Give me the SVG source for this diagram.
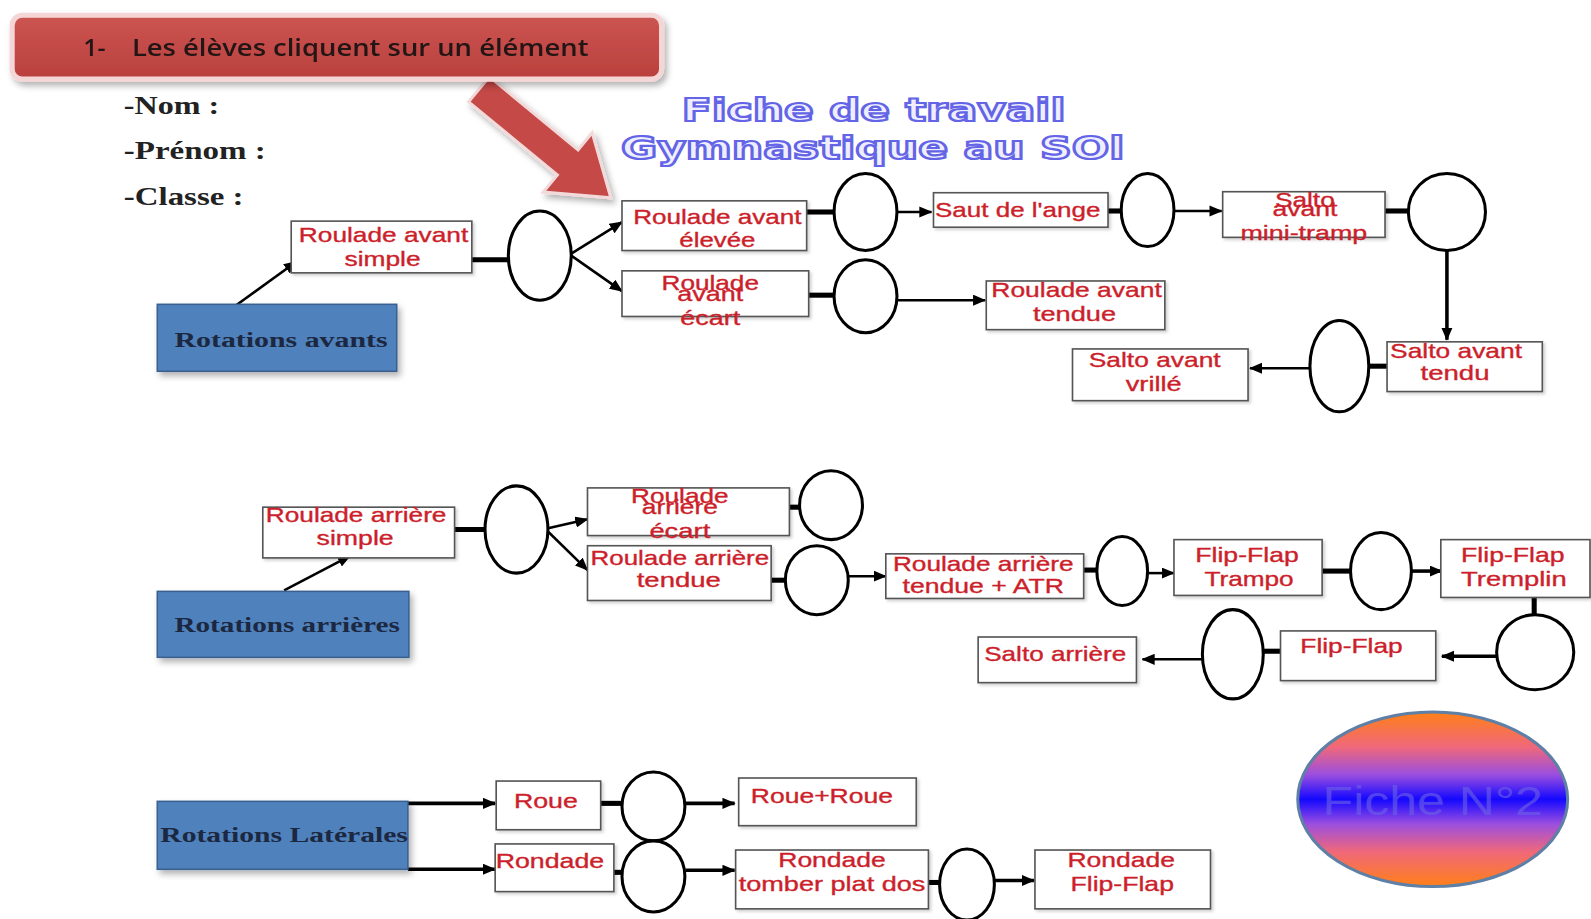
<svg xmlns="http://www.w3.org/2000/svg" width="1591" height="919" viewBox="0 0 1591 919">
<style>
.t{font-family:"Liberation Sans",Arial,sans-serif;font-size:20px;fill:#cc1f2b;stroke:#cc1f2b;stroke-width:0.35;text-anchor:middle}
.bx{fill:#fff;stroke:#555;stroke-width:1.6}
.ov{fill:#fff;stroke:#000;stroke-width:3}
.ln{stroke:#000;stroke-width:2.5;fill:none}
.lk{stroke:#000;stroke-width:3.5;fill:none}
.th{stroke:#000;stroke-width:5;fill:none}
.blue{fill:#4f81bd;stroke:#3a6090;stroke-width:1.5}
.bt{font-family:"Liberation Serif","Times New Roman",serif;font-weight:bold;font-size:21px;fill:#1c2740;text-anchor:middle}
.st{font-family:"Liberation Serif","Times New Roman",serif;font-weight:bold;font-size:24px;fill:#222}
.ti{font-family:"DejaVu Sans",sans-serif;font-weight:bold;font-size:31px;fill:#eeeeff;stroke:#6464e6;stroke-width:2.2;text-anchor:middle}
.ct{font-family:"Open Sans","Liberation Sans",sans-serif;font-weight:600;font-size:23px;fill:#231212}
</style>
<defs>
<marker id="ah" markerUnits="userSpaceOnUse" markerWidth="13" markerHeight="11" refX="12" refY="5.5" orient="auto">
<path d="M0,0 L13,5.5 L0,11 z" fill="#000"/>
</marker>
<filter id="sh" x="-10%" y="-10%" width="130%" height="140%">
<feDropShadow dx="3" dy="4" stdDeviation="3" flood-color="#000" flood-opacity="0.3"/>
</filter>
<filter id="sh2" x="-5%" y="-5%" width="115%" height="120%">
<feDropShadow dx="2" dy="2" stdDeviation="1.5" flood-color="#000" flood-opacity="0.18"/>
</filter>
<linearGradient id="red" x1="0" y1="0" x2="0" y2="1">
<stop offset="0" stop-color="#cc5551"/>
<stop offset="1" stop-color="#b9403d"/>
</linearGradient>
<linearGradient id="fg" x1="0" y1="0" x2="0" y2="1">
<stop offset="0" stop-color="#ff8018"/>
<stop offset="0.2" stop-color="#f0687a"/>
<stop offset="0.36" stop-color="#9a4ee0"/>
<stop offset="0.5" stop-color="#1408ff"/>
<stop offset="0.64" stop-color="#9a4ee0"/>
<stop offset="0.8" stop-color="#f0687a"/>
<stop offset="1" stop-color="#ff8018"/>
</linearGradient>
</defs>
<rect width="1591" height="919" fill="#fff"/>
<g transform="scale(1.01467,1.01435)">

<!-- header -->
<g id="pointer-arrow" filter="url(#sh)">
<polygon points="482.2,75.6 569.7,147.7 583.6,130.8 602,195 535.4,189.4 549.3,172.5 461.8,100.4" fill="#c44a47" stroke="#f3dada" stroke-width="3"/>
</g>
<g id="callout" filter="url(#sh)">
<rect x="12" y="15" width="640" height="63" rx="10" fill="url(#red)" stroke="#f5d6d6" stroke-width="5"/>
<text class="ct" x="82" y="55" textLength="22" lengthAdjust="spacingAndGlyphs">1-</text>
<text class="ct" x="130" y="55" textLength="450" lengthAdjust="spacingAndGlyphs">Les élèves cliquent sur un élément</text>
</g>
<g id="student-fields">
<text class="st" x="122" y="112" textLength="94" lengthAdjust="spacingAndGlyphs">-Nom :</text>
<text class="st" x="122" y="157" textLength="140" lengthAdjust="spacingAndGlyphs">-Prénom :</text>
<text class="st" x="122" y="202" textLength="118" lengthAdjust="spacingAndGlyphs">-Classe :</text>
</g>
<g id="title">
<text class="ti" x="861" y="119" textLength="378" lengthAdjust="spacingAndGlyphs">Fiche de travail</text>
<text class="ti" x="860" y="157" textLength="496" lengthAdjust="spacingAndGlyphs">Gymnastique au SOl</text>
</g>

<!-- connectors -->
<g id="connectors">
<line class="ln" x1="230" y1="303" x2="292" y2="258" marker-end="url(#ah)"/>
<line class="th" x1="465" y1="256" x2="501" y2="256"/>
<line class="ln" x1="563" y1="250" x2="613" y2="219" marker-end="url(#ah)"/>
<line class="ln" x1="563" y1="252" x2="613" y2="287" marker-end="url(#ah)"/>
<line class="th" x1="795" y1="209" x2="823" y2="209"/>
<line class="ln" x1="885" y1="209" x2="918" y2="209" marker-end="url(#ah)"/>
<line class="th" x1="1092" y1="208" x2="1106" y2="208"/>
<line class="ln" x1="1157" y1="208" x2="1204" y2="208" marker-end="url(#ah)"/>
<line class="th" x1="1365" y1="208" x2="1389" y2="208"/>
<line class="lk" x1="1426" y1="247" x2="1426" y2="335" marker-end="url(#ah)"/>
<line class="th" x1="1349" y1="361" x2="1368" y2="361"/>
<line class="ln" x1="1291" y1="363" x2="1232" y2="363" marker-end="url(#ah)"/>
<line class="th" x1="797" y1="291" x2="823" y2="291"/>
<line class="ln" x1="885" y1="296" x2="971" y2="296" marker-end="url(#ah)"/>

<line class="ln" x1="280" y1="582" x2="345" y2="548" marker-end="url(#ah)"/>
<line class="th" x1="448" y1="522" x2="479" y2="522"/>
<line class="ln" x1="539" y1="521" x2="579" y2="512" marker-end="url(#ah)"/>
<line class="ln" x1="539" y1="523" x2="579" y2="562" marker-end="url(#ah)"/>
<line class="th" x1="778" y1="500" x2="789" y2="500"/>
<line class="th" x1="760" y1="572" x2="775" y2="572"/>
<line class="ln" x1="836" y1="568" x2="873" y2="568" marker-end="url(#ah)"/>
<line class="th" x1="1068" y1="562" x2="1081" y2="562"/>
<line class="ln" x1="1131" y1="565" x2="1157" y2="565" marker-end="url(#ah)"/>
<line class="th" x1="1303" y1="563" x2="1332" y2="563"/>
<line class="lk" x1="1391" y1="563" x2="1421" y2="563" marker-end="url(#ah)"/>
<line class="th" x1="1512" y1="589" x2="1512" y2="606"/>
<line class="lk" x1="1475" y1="647" x2="1421" y2="647" marker-end="url(#ah)"/>
<line class="th" x1="1244" y1="642" x2="1262" y2="642"/>
<line class="ln" x1="1185" y1="650" x2="1126" y2="650" marker-end="url(#ah)"/>

<line class="lk" x1="402" y1="792" x2="488" y2="792" marker-end="url(#ah)"/>
<line class="lk" x1="402" y1="857" x2="488" y2="857" marker-end="url(#ah)"/>
<line class="th" x1="592" y1="792" x2="614" y2="792"/>
<line class="lk" x1="676" y1="792" x2="724" y2="792" marker-end="url(#ah)"/>
<line class="th" x1="605" y1="860" x2="614" y2="860"/>
<line class="lk" x1="676" y1="858" x2="724" y2="858" marker-end="url(#ah)"/>
<line class="th" x1="915" y1="870" x2="927" y2="870"/>
<line class="lk" x1="980" y1="868" x2="1019" y2="868" marker-end="url(#ah)"/>
</g>

<!-- Row 1: rotations avant -->
<g id="rotations-avants"><rect class="blue" x="155" y="300" width="236" height="66" filter="url(#sh)"/><text class="bt" x="277" y="342" textLength="210" lengthAdjust="spacingAndGlyphs">Rotations avants</text></g>
<g id="ra-simple"><rect class="bx" x="287" y="218" width="178" height="51" filter="url(#sh2)"/><text class="t" x="378" y="239" textLength="167" lengthAdjust="spacingAndGlyphs">Roulade avant</text><text class="t" x="377" y="262" textLength="75" lengthAdjust="spacingAndGlyphs">simple</text></g>
<g id="ov1"><ellipse class="ov" cx="532" cy="252" rx="31" ry="44"/></g>
<g id="ra-elevee"><rect class="bx" x="613" y="198" width="182" height="49" filter="url(#sh2)"/><text class="t" x="707" y="221" textLength="166" lengthAdjust="spacingAndGlyphs">Roulade avant</text><text class="t" x="707" y="244" textLength="75" lengthAdjust="spacingAndGlyphs">élevée</text></g>
<g id="ra-ecart"><rect class="bx" x="613" y="267" width="184" height="45" filter="url(#sh2)"/><text class="t" x="700" y="286" textLength="96" lengthAdjust="spacingAndGlyphs">Roulade</text><text class="t" x="700" y="297" textLength="65" lengthAdjust="spacingAndGlyphs">avant</text><text class="t" x="700" y="320" textLength="59" lengthAdjust="spacingAndGlyphs">écart</text></g>
<g id="ov2"><ellipse class="ov" cx="853" cy="209" rx="31" ry="38"/></g>
<g id="saut-ange"><rect class="bx" x="920" y="190" width="172" height="34" filter="url(#sh2)"/><text class="t" x="1003" y="214" textLength="163" lengthAdjust="spacingAndGlyphs">Saut de l'ange</text></g>
<g id="ov3"><ellipse class="ov" cx="1131" cy="207" rx="26" ry="36"/></g>
<g id="salto-minitramp"><rect class="bx" x="1205" y="189" width="160" height="45" filter="url(#sh2)"/><text class="t" x="1286" y="204" textLength="59" lengthAdjust="spacingAndGlyphs">Salto</text><text class="t" x="1286" y="213" textLength="64" lengthAdjust="spacingAndGlyphs">avant</text><text class="t" x="1285" y="237" textLength="125" lengthAdjust="spacingAndGlyphs">mini-tramp</text></g>
<g id="ov4"><ellipse class="ov" cx="1426" cy="209" rx="38" ry="38"/></g>
<g id="salto-tendu"><rect class="bx" x="1367" y="337" width="153" height="49" filter="url(#sh2)"/><text class="t" x="1435" y="353" textLength="130" lengthAdjust="spacingAndGlyphs">Salto avant</text><text class="t" x="1434" y="375" textLength="68" lengthAdjust="spacingAndGlyphs">tendu</text></g>
<g id="ov5"><ellipse class="ov" cx="1320" cy="361" rx="29" ry="45"/></g>
<g id="salto-vrille"><rect class="bx" x="1057" y="344" width="173" height="51" filter="url(#sh2)"/><text class="t" x="1138" y="362" textLength="130" lengthAdjust="spacingAndGlyphs">Salto avant</text><text class="t" x="1137" y="385" textLength="55" lengthAdjust="spacingAndGlyphs">vrillé</text></g>
<g id="ov6"><ellipse class="ov" cx="853" cy="292" rx="31" ry="36"/></g>
<g id="ra-tendue"><rect class="bx" x="972" y="277" width="176" height="48" filter="url(#sh2)"/><text class="t" x="1061" y="293" textLength="168" lengthAdjust="spacingAndGlyphs">Roulade avant</text><text class="t" x="1059" y="316" textLength="82" lengthAdjust="spacingAndGlyphs">tendue</text></g>

<!-- Row 2: rotations arriere -->
<g id="rotations-arrieres"><rect class="blue" x="155" y="583" width="248" height="65" filter="url(#sh)"/><text class="bt" x="283" y="623" textLength="222" lengthAdjust="spacingAndGlyphs">Rotations arrières</text></g>
<g id="rar-simple"><rect class="bx" x="259" y="500" width="189" height="50" filter="url(#sh2)"/><text class="t" x="351" y="515" textLength="178" lengthAdjust="spacingAndGlyphs">Roulade arrière</text><text class="t" x="350" y="537" textLength="76" lengthAdjust="spacingAndGlyphs">simple</text></g>
<g id="ov7"><ellipse class="ov" cx="509" cy="522" rx="31" ry="43"/></g>
<g id="rar-ecart"><rect class="bx" x="579" y="481" width="199" height="47" filter="url(#sh2)"/><text class="t" x="670" y="496" textLength="96" lengthAdjust="spacingAndGlyphs">Roulade</text><text class="t" x="670" y="507" textLength="75" lengthAdjust="spacingAndGlyphs">arrière</text><text class="t" x="670" y="530" textLength="60" lengthAdjust="spacingAndGlyphs">écart</text></g>
<g id="ov8"><ellipse class="ov" cx="819" cy="498" rx="31" ry="34"/></g>
<g id="rar-tendue"><rect class="bx" x="579" y="538" width="181" height="54" filter="url(#sh2)"/><text class="t" x="670" y="557" textLength="176" lengthAdjust="spacingAndGlyphs">Roulade arrière</text><text class="t" x="669" y="579" textLength="83" lengthAdjust="spacingAndGlyphs">tendue</text></g>
<g id="ov9"><ellipse class="ov" cx="805" cy="572" rx="31" ry="34"/></g>
<g id="rar-atr"><rect class="bx" x="873" y="546" width="195" height="44" filter="url(#sh2)"/><text class="t" x="969" y="563" textLength="178" lengthAdjust="spacingAndGlyphs">Roulade arrière</text><text class="t" x="969" y="585" textLength="159" lengthAdjust="spacingAndGlyphs">tendue + ATR</text></g>
<g id="ov10"><ellipse class="ov" cx="1106" cy="563" rx="25" ry="34"/></g>
<g id="ff-trampo"><rect class="bx" x="1157" y="532" width="146" height="55" filter="url(#sh2)"/><text class="t" x="1229" y="554" textLength="102" lengthAdjust="spacingAndGlyphs">Flip-Flap</text><text class="t" x="1231" y="578" textLength="88" lengthAdjust="spacingAndGlyphs">Trampo</text></g>
<g id="ov11"><ellipse class="ov" cx="1361" cy="563" rx="30" ry="38"/></g>
<g id="ff-tremplin"><rect class="bx" x="1420" y="532" width="147" height="57" filter="url(#sh2)"/><text class="t" x="1491" y="554" textLength="102" lengthAdjust="spacingAndGlyphs">Flip-Flap</text><text class="t" x="1492" y="578" textLength="104" lengthAdjust="spacingAndGlyphs">Tremplin</text></g>
<g id="ov12"><ellipse class="ov" cx="1513" cy="643" rx="38" ry="37"/></g>
<g id="ff"><rect class="bx" x="1262" y="622" width="153" height="49" filter="url(#sh2)"/><text class="t" x="1332" y="644" textLength="101" lengthAdjust="spacingAndGlyphs">Flip-Flap</text></g>
<g id="ov13"><ellipse class="ov" cx="1215" cy="645" rx="30" ry="44"/></g>
<g id="salto-arriere"><rect class="bx" x="964" y="628" width="156" height="45" filter="url(#sh2)"/><text class="t" x="1040" y="652" textLength="140" lengthAdjust="spacingAndGlyphs">Salto arrière</text></g>

<!-- Row 3: rotations laterales -->
<g id="rotations-laterales"><rect class="blue" x="155" y="790" width="247" height="67" filter="url(#sh)"/><text class="bt" x="280" y="830" textLength="244" lengthAdjust="spacingAndGlyphs">Rotations Latérales</text></g>
<g id="roue"><rect class="bx" x="489" y="770" width="103" height="48" filter="url(#sh2)"/><text class="t" x="538" y="797" textLength="63" lengthAdjust="spacingAndGlyphs">Roue</text></g>
<g id="ov14"><ellipse class="ov" cx="644" cy="795" rx="31" ry="34"/></g>
<g id="roue-roue"><rect class="bx" x="728" y="767" width="175" height="47" filter="url(#sh2)"/><text class="t" x="810" y="792" textLength="140" lengthAdjust="spacingAndGlyphs">Roue+Roue</text></g>
<g id="rondade"><rect class="bx" x="488" y="832" width="117" height="47" filter="url(#sh2)"/><text class="t" x="542" y="856" textLength="107" lengthAdjust="spacingAndGlyphs">Rondade</text></g>
<g id="ov15"><ellipse class="ov" cx="644" cy="864" rx="31" ry="35"/></g>
<g id="rondade-tpd"><rect class="bx" x="725" y="838" width="190" height="58" filter="url(#sh2)"/><text class="t" x="820" y="855" textLength="106" lengthAdjust="spacingAndGlyphs">Rondade</text><text class="t" x="820" y="878" textLength="184" lengthAdjust="spacingAndGlyphs">tomber plat dos</text></g>
<g id="ov16"><ellipse class="ov" cx="953" cy="872" rx="27" ry="35"/></g>
<g id="rondade-ff"><rect class="bx" x="1020" y="838" width="173" height="58" filter="url(#sh2)"/><text class="t" x="1105" y="855" textLength="106" lengthAdjust="spacingAndGlyphs">Rondade</text><text class="t" x="1106" y="878" textLength="102" lengthAdjust="spacingAndGlyphs">Flip-Flap</text></g>

<g id="fiche-n2">
<ellipse cx="1412" cy="788" rx="133" ry="86" fill="url(#fg)" stroke="#5e7fa6" stroke-width="3"/>
<text x="1412" y="803" font-family="'Liberation Sans',Arial,sans-serif" font-size="40" fill="#6e62e6" fill-opacity="0.6" text-anchor="middle" textLength="217" lengthAdjust="spacingAndGlyphs">Fiche N°2</text>
</g>
</g>
</svg>
